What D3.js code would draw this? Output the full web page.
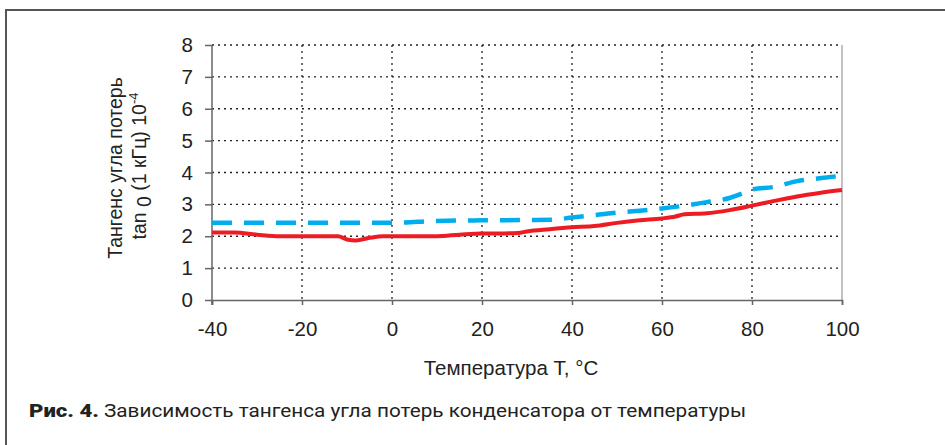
<!DOCTYPE html>
<html><head><meta charset="utf-8">
<script src="https://cdn.jsdelivr.net/npm/d3@7"></script>
<style>body{margin:0;background:#fff}svg{display:block}</style>
</head><body>
<svg id="c" width="945" height="445"></svg>
<script>
const redT   = [-40,-35,-30,-25,-20,-15,-12,-10,-8,-5,-2,0,5,10,15,20,25,28,30,35,40,45,50,55,60,63,65,70,75,80,85,90,95,100];
const redV   = [2.12,2.12,2.05,2.0,2.0,2.0,2.0,1.9,1.87,1.95,2.0,2.0,2.0,2.0,2.05,2.09,2.09,2.1,2.15,2.22,2.28,2.32,2.42,2.5,2.56,2.62,2.69,2.72,2.82,2.96,3.11,3.25,3.36,3.45];
const blueT  = [-40,-20,0,10,20,30,36,40,45,50,55,60,65,70,75,78,80,85,90,95,100];
const blueV  = [2.42,2.42,2.42,2.48,2.5,2.51,2.52,2.59,2.66,2.74,2.8,2.87,2.96,3.07,3.2,3.35,3.47,3.55,3.73,3.82,3.9];
const xTicks = [-40,-20,0,20,40,60,80,100];
const yTicks = [0,1,2,3,4,5,6,7,8];
const yTitle1 = "Тангенс угла потерь";
const xTitle = "Температура T, °C";
const capBold = "Рис. 4.";
const capText = "Зависимость тангенса угла потерь конденсатора от температуры";

const svg = d3.select("#c");
const F = "'Liberation Sans', Arial, sans-serif";
const x = d3.scaleLinear().domain([-40,100]).range([212,842]);
const y = d3.scaleLinear().domain([0,8]).range([300,45]);

// frame
svg.append("path").attr("d","M6,450 V10 H950").attr("fill","none").attr("stroke","#555").attr("stroke-width",2);

// grid
const g = svg.append("g");
g.selectAll(".hg").data(yTicks.filter(d=>d>0)).enter().append("line")
  .attr("x1",x(-40)).attr("x2",x(100)).attr("y1",d=>y(d)).attr("y2",d=>y(d))
  .attr("stroke","#222").attr("stroke-width",1.3).attr("stroke-dasharray","2,4");
g.selectAll(".vg").data(xTicks.filter(d=>d>-40 && d<100)).enter().append("line")
  .attr("x1",d=>x(d)).attr("x2",d=>x(d)).attr("y1",y(8)).attr("y2",y(0))
  .attr("stroke","#222").attr("stroke-width",1.3).attr("stroke-dasharray","2,4");
g.append("line").attr("x1",x(100)).attr("x2",x(100)).attr("y1",y(8)).attr("y2",y(0))
  .attr("stroke","#999").attr("stroke-width",1.2);

// axes
const ax = svg.append("g").attr("transform",`translate(0,${y(0)})`)
  .call(d3.axisBottom(x).tickValues(xTicks).tickSize(5).tickPadding(16).tickFormat(d3.format("d")));
const ay = svg.append("g").attr("transform",`translate(${x(-40)},0)`)
  .call(d3.axisLeft(y).tickValues(yTicks).tickSize(7).tickPadding(12).tickFormat(d3.format("d")));
[ax,ay].forEach(a=>{
  a.select(".domain").attr("stroke","#666").attr("stroke-width",1.5);
  a.selectAll(".tick line").attr("stroke","#666").attr("stroke-width",1.5);
  a.selectAll("text").attr("font-family",F).attr("font-size",20.5).attr("fill","#222");
});
ay.select(".domain").attr("d",`M0,${y(8)}V${y(0)+5}`);
ax.selectAll("text").text(d=>d<0?"-"+Math.abs(d):d);

// lines
const line = d3.line().x(d=>x(d[0])).y(d=>y(d[1])).curve(d3.curveMonotoneX);
svg.append("path").datum(blueT.map((t,i)=>[t,blueV[i]])).attr("d",line)
  .attr("fill","none").attr("stroke","#00aeef").attr("stroke-width",4.5).attr("stroke-dasharray","20,12");
svg.append("path").datum(redT.map((t,i)=>[t,redV[i]])).attr("d",line)
  .attr("fill","none").attr("stroke","#ed1c24").attr("stroke-width",4);

// y title
svg.append("text").attr("transform","translate(122,168) rotate(-90)")
  .attr("text-anchor","middle").attr("font-family",F).attr("font-size",19.5).attr("fill","#222")
  .text(yTitle1);
const yt2 = svg.append("text").attr("transform","translate(146,166) rotate(-90)")
  .attr("text-anchor","middle").attr("font-family",F).attr("font-size",19.5).attr("fill","#222");
yt2.append("tspan").text("tan ");
yt2.append("tspan").attr("dy",5).text("0");
yt2.append("tspan").attr("dy",-5).text(" (1 кГц)  10");
yt2.append("tspan").attr("dy",-8).attr("font-size",13).text("-4");

// x title
svg.append("text").attr("x",511).attr("y",375).attr("text-anchor","middle")
  .attr("font-family",F).attr("font-size",20.5).attr("fill","#222").text(xTitle);

// caption
const cap = svg.append("text").attr("y",417).attr("font-family","Roboto, sans-serif").attr("font-size",18).attr("fill","#222");
cap.append("tspan").attr("x",29).attr("font-weight",900).attr("font-size",19).attr("textLength",70).attr("lengthAdjust","spacingAndGlyphs").text(capBold);
cap.append("tspan").attr("x",104).attr("textLength",642).attr("lengthAdjust","spacingAndGlyphs").text(capText);
</script>
</body></html>
